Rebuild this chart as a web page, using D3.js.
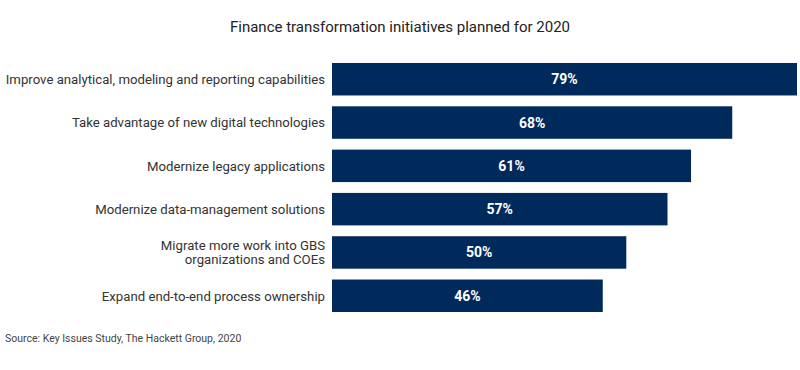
<!DOCTYPE html>
<html>
<head>
<meta charset="utf-8">
<script src="https://cdn.jsdelivr.net/npm/d3@7"></script>
<style>
  body { margin: 0; background: #fff; }
  svg text { font-family: Roboto, "Liberation Sans", sans-serif; }
</style>
</head>
<body>
<svg width="800" height="370"></svg>
<script>
var categories = [
    ["Improve analytical, modeling and reporting capabilities"],
    ["Take advantage of new digital technologies"],
    ["Modernize legacy applications"],
    ["Modernize data-management solutions"],
    ["Migrate more work into GBS", "organizations and COEs"],
    ["Expand end-to-end process ownership"]
];
var values = [79, 68, 61, 57, 50, 46];
var title = "Finance transformation initiatives planned for 2020";
var source = "Source: Key Issues Study, The Hackett Group, 2020";

var data = values.map(function(v, i) { return { label: categories[i], value: v, i: i }; });

var svg = d3.select("svg");

var x = d3.scaleLinear()
    .domain([0, 79])
    .range([332, 797]);

var y = d3.scaleBand()
    .domain(d3.range(values.length))
    .range([63, 312])
    .paddingInner(0.25)
    .paddingOuter(0);

svg.append("text")
    .attr("x", 400)
    .attr("y", 32)
    .attr("text-anchor", "middle")
    .style("font-size", "15px")
    .style("fill", "#222")
    .text(title);

var rows = svg.selectAll("g.row")
    .data(data)
    .enter()
    .append("g")
    .attr("class", "row");

rows.append("rect")
    .attr("x", x(0))
    .attr("y", function(d) { return y(d.i); })
    .attr("width", function(d) { return x(d.value) - x(0); })
    .attr("height", y.bandwidth())
    .style("fill", "#002a5c");

rows.append("text")
    .attr("x", function(d) { return (x(0) + x(d.value)) / 2; })
    .attr("y", function(d) { return y(d.i) + y.bandwidth() / 2; })
    .attr("dy", "0.36em")
    .attr("text-anchor", "middle")
    .style("font-size", "14px")
    .style("font-weight", "bold")
    .style("fill", "#fff")
    .text(function(d) { return d.value + "%"; });

rows.append("text")
    .attr("class", "label")
    .attr("text-anchor", "end")
    .attr("x", 325)
    .attr("y", function(d) {
        return y(d.i) + y.bandwidth() / 2 - (d.label.length - 1) * 7.25;
    })
    .style("font-size", "13.2px")
    .style("fill", "#333")
    .selectAll("tspan")
    .data(function(d) { return d.label; })
    .enter()
    .append("tspan")
    .attr("x", 325)
    .attr("dy", function(t, j) { return j === 0 ? "0.36em" : "14.5px"; })
    .text(function(t) { return t; });

svg.append("text")
    .attr("x", 5)
    .attr("y", 342)
    .style("font-size", "10.5px")
    .style("fill", "#444")
    .text(source);
</script>
</body>
</html>
